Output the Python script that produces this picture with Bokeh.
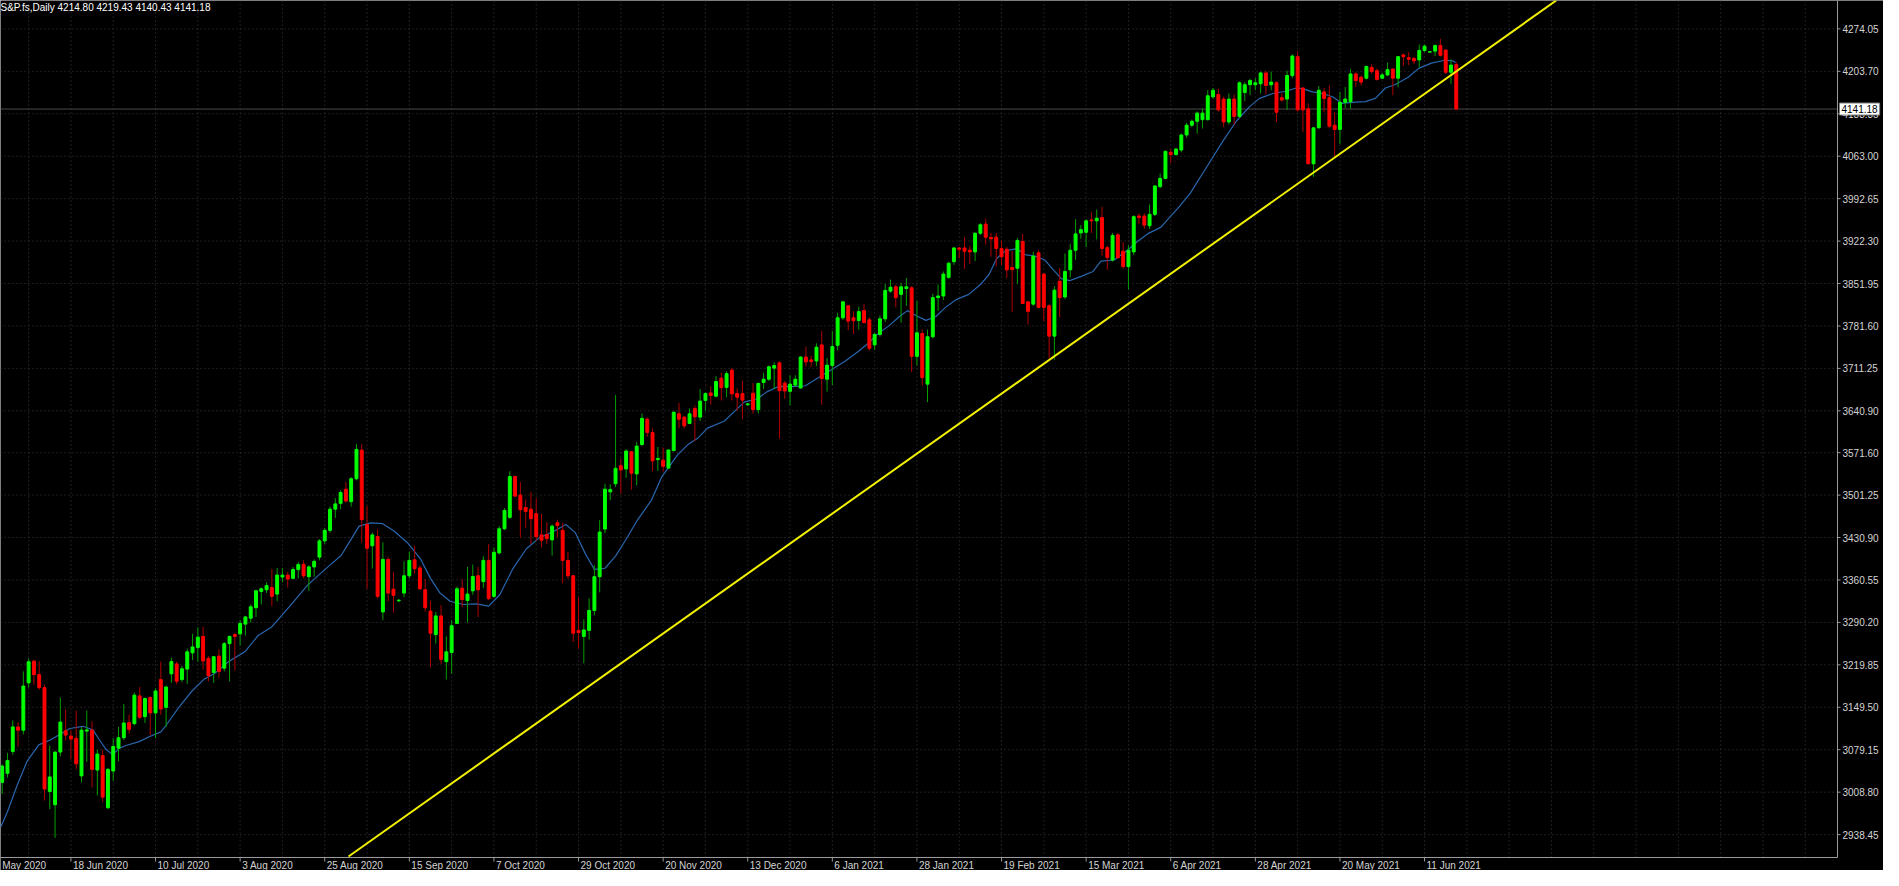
from bokeh.plotting import figure
from bokeh.models import ColumnDataSource, Range1d, Label
from bokeh.core.properties import value
from bokeh.embed import file_html
from bokeh.resources import INLINE

title_text = "S&P.fs,Daily  4214.80 4219.43 4140.43 4141.18"
last_price = 4141.18
last_price_text = "4141.18"

# ---- daily OHLC (bar 0 = 1 Jun 2020) ----
opens = [3025.0, 3040.0, 3076.4, 3117.0, 3111.5, 3190.0, 3226.0, 3203.6, 3182.0, 3010.0,
         2988.0, 3075.3, 3110.5, 3101.8, 3098.0, 3035.8, 3110.0, 3111.6, 3045.5, 3069.4,
         2983.0, 3043.9, 3081.8, 3099.0, 3124.0, 3122.4, 3168.4, 3134.0, 3165.7, 3140.2,
         3195.4, 3149.4, 3205.0, 3221.4, 3195.4, 3212.8, 3239.8, 3248.5, 3266.9, 3230.6,
         3207.3, 3234.4, 3214.4, 3255.0, 3270.0, 3271.2, 3287.4, 3297.2, 3314.5, 3341.6,
         3344.3, 3348.0, 3337.2, 3365.4, 3368.6, 3363.2, 3377.8, 3386.5, 3366.0, 3382.2,
         3398.4, 3425.4, 3442.8, 3477.9, 3487.6, 3511.0, 3490.4, 3528.3, 3575.9, 3452.5,
         3417.3, 3432.5, 3307.5, 3394.6, 3345.3, 3326.0, 3338.8, 3367.5, 3394.0, 3380.5,
         3344.3, 3309.0, 3270.0, 3300.9, 3225.2, 3240.3, 3288.5, 3346.9, 3326.4, 3342.6,
         3367.5, 3357.8, 3393.0, 3333.4, 3405.4, 3445.4, 3464.4, 3532.0, 3501.2, 3480.6,
         3477.9, 3470.4, 3435.2, 3435.7, 3427.0, 3455.2, 3442.8, 3393.0, 3367.5, 3276.6,
         3266.9, 3277.0, 3310.0, 3366.0, 3445.0, 3506.6, 3520.1, 3549.9, 3544.5, 3573.2,
         3536.4, 3585.1, 3627.0, 3605.0, 3560.0, 3559.0, 3546.0, 3575.0, 3636.0, 3630.5,
         3620.0, 3644.6, 3630.5, 3658.1, 3670.6, 3665.2, 3695.0, 3679.8, 3708.5, 3669.5,
         3669.5, 3651.0, 3670.1, 3643.0, 3687.9, 3693.3, 3711.7, 3720.4, 3686.8, 3673.3,
         3683.6, 3678.7, 3730.1, 3725.3, 3723.6, 3750.2, 3693.3, 3716.1, 3749.6, 3795.1,
         3815.1, 3795.1, 3790.7, 3807.0, 3791.8, 3750.2, 3767.5, 3793.4, 3839.4, 3846.5,
         3834.0, 3843.8, 3844.9, 3731.2, 3769.1, 3685.2, 3763.7, 3828.6, 3831.3, 3862.2,
         3888.2, 3910.9, 3910.9, 3907.1, 3904.4, 3935.2, 3950.4, 3928.2, 3928.7, 3909.8,
         3908.7, 3878.4, 3877.3, 3921.7, 3821.6, 3817.8, 3902.8, 3867.6, 3815.1, 3764.8,
         3855.7, 3829.7, 3874.6, 3907.1, 3935.8, 3936.9, 3957.4, 3955.8, 3961.2, 3911.4,
         3890.9, 3932.6, 3905.5, 3880.0, 3904.4, 3963.9, 3963.9, 3947.7, 3966.6, 4012.6,
         4026.2, 4069.5, 4065.7, 4073.3, 4098.2, 4114.4, 4120.9, 4123.6, 4123.6, 4161.5,
         4165.3, 4157.7, 4119.8, 4157.7, 4129.0, 4168.5, 4181.5, 4181.5, 4183.1, 4201.0,
         4181.5, 4184.7, 4159.9, 4157.7, 4196.6, 4228.0, 4176.1, 4141.5, 4050.5, 4110.0,
         4169.6, 4159.9, 4114.4, 4107.4, 4152.3, 4153.4, 4199.4, 4193.9, 4192.3, 4210.2,
         4204.8, 4192.3, 4197.7, 4207.5, 4192.3, 4230.8, 4226.4, 4224.8, 4222.6, 4238.3,
         4235.6, 4237.2, 4246.4, 4238.9, 4202.1, 4214.80]
highs = [3055.0, 3073.7, 3127.8, 3125.0, 3209.0, 3230.6, 3228.0, 3226.0, 3187.0, 3086.0,
         3076.0, 3165.7, 3145.6, 3111.6, 3144.0, 3117.0, 3144.0, 3126.0, 3079.0, 3079.0,
         3049.0, 3098.0, 3117.0, 3154.9, 3137.0, 3173.8, 3183.0, 3165.7, 3167.4, 3180.8,
         3225.2, 3185.7, 3231.7, 3225.2, 3218.0, 3246.8, 3271.2, 3282.0, 3283.0, 3234.4,
         3234.4, 3245.2, 3257.7, 3268.5, 3272.3, 3294.0, 3301.0, 3320.0, 3344.3, 3348.0,
         3356.7, 3378.4, 3380.5, 3380.5, 3374.0, 3382.2, 3390.2, 3393.0, 3384.8, 3394.6,
         3428.1, 3447.0, 3482.2, 3495.8, 3509.3, 3522.8, 3531.0, 3586.2, 3586.2, 3483.3,
         3439.0, 3444.4, 3422.7, 3398.4, 3374.0, 3329.0, 3391.3, 3407.6, 3417.3, 3384.8,
         3362.1, 3325.3, 3307.5, 3318.8, 3266.9, 3293.9, 3349.7, 3362.1, 3382.2, 3386.0,
         3382.2, 3400.0, 3420.0, 3414.6, 3449.8, 3479.6, 3540.7, 3533.6, 3522.8, 3494.0,
         3506.6, 3495.8, 3470.4, 3456.3, 3452.5, 3460.6, 3455.2, 3407.6, 3368.6, 3331.8,
         3295.5, 3330.0, 3385.0, 3460.0, 3520.0, 3519.0, 3667.3, 3561.8, 3577.0, 3574.3,
         3589.4, 3636.5, 3630.0, 3612.0, 3581.0, 3580.0, 3577.0, 3639.0, 3654.0, 3632.0,
         3644.6, 3650.0, 3677.0, 3671.7, 3681.4, 3698.7, 3704.2, 3706.8, 3712.3, 3678.2,
         3690.6, 3654.0, 3686.8, 3687.9, 3704.2, 3716.1, 3721.5, 3723.0, 3690.6, 3699.8,
         3699.8, 3731.2, 3747.4, 3732.0, 3752.8, 3773.4, 3728.5, 3773.4, 3803.2, 3823.2,
         3816.7, 3805.9, 3813.5, 3817.8, 3796.2, 3770.2, 3798.9, 3851.3, 3858.4, 3850.3,
         3853.0, 3861.0, 3847.6, 3823.2, 3775.6, 3775.6, 3835.1, 3850.3, 3871.9, 3888.2,
         3912.5, 3912.5, 3928.7, 3914.1, 3936.9, 3952.0, 3959.6, 3935.8, 3935.8, 3923.3,
         3912.5, 3905.5, 3927.1, 3934.2, 3823.2, 3904.4, 3907.1, 3869.2, 3817.8, 3847.6,
         3877.3, 3901.7, 3917.9, 3958.5, 3948.8, 3958.5, 3970.4, 3974.7, 3979.1, 3915.2,
         3935.8, 3935.8, 3920.6, 3915.2, 3965.0, 3968.3, 3968.3, 3982.9, 4015.3, 4034.3,
         4072.2, 4075.0, 4076.5, 4100.3, 4118.2, 4123.6, 4137.1, 4142.5, 4172.3, 4176.1,
         4175.0, 4161.5, 4167.0, 4165.3, 4186.9, 4185.8, 4191.3, 4192.3, 4203.2, 4204.8,
         4203.2, 4186.9, 4166.9, 4204.8, 4231.8, 4237.2, 4177.7, 4150.7, 4111.1, 4179.3,
         4176.1, 4180.4, 4136.0, 4169.6, 4177.7, 4207.5, 4202.1, 4196.6, 4212.9, 4215.6,
         4208.6, 4201.0, 4218.3, 4208.6, 4229.1, 4233.5, 4235.6, 4228.0, 4248.0, 4248.0,
         4237.0, 4248.0, 4257.3, 4240.0, 4223.7, 4219.43]
lows = [3006.0, 3033.0, 3071.0, 3084.5, 3104.5, 3182.0, 3187.0, 3179.0, 2995.0, 2980.6,
        2933.0, 3068.0, 3095.0, 3062.9, 3046.6, 3025.0, 3059.0, 3016.8, 3003.3, 2992.5,
        2980.6, 3027.6, 3060.0, 3095.3, 3106.0, 3119.7, 3130.5, 3123.5, 3103.4, 3098.0,
        3137.0, 3117.0, 3190.0, 3187.3, 3191.0, 3188.4, 3227.9, 3225.2, 3211.7, 3192.7,
        3190.0, 3198.0, 3209.0, 3192.7, 3210.6, 3252.0, 3268.5, 3290.0, 3299.3, 3320.0,
        3338.9, 3317.2, 3325.3, 3356.7, 3348.0, 3362.0, 3363.2, 3363.2, 3342.6, 3366.0,
        3393.0, 3420.0, 3439.0, 3463.3, 3477.9, 3488.7, 3482.2, 3525.6, 3422.7, 3345.9,
        3379.4, 3330.0, 3293.9, 3325.3, 3306.4, 3324.0, 3331.8, 3363.2, 3371.3, 3344.3,
        3308.0, 3216.0, 3255.0, 3221.4, 3195.4, 3205.2, 3288.0, 3315.6, 3290.1, 3336.1,
        3299.3, 3347.0, 3327.0, 3330.7, 3403.0, 3443.3, 3462.0, 3498.5, 3430.8, 3447.1,
        3420.0, 3425.4, 3414.6, 3420.0, 3401.1, 3430.8, 3355.0, 3362.1, 3257.7, 3246.8,
        3222.5, 3262.0, 3302.0, 3340.0, 3438.0, 3493.0, 3514.7, 3503.9, 3529.9, 3510.4,
        3517.4, 3582.4, 3598.0, 3541.0, 3541.0, 3540.0, 3545.0, 3574.0, 3612.0, 3612.0,
        3618.6, 3590.5, 3624.0, 3641.4, 3651.1, 3663.5, 3658.1, 3663.5, 3658.1, 3641.4,
        3627.3, 3649.0, 3636.5, 3636.5, 3677.1, 3690.6, 3677.1, 3594.8, 3660.9, 3650.0,
        3681.4, 3678.7, 3714.0, 3713.9, 3715.0, 3651.1, 3672.8, 3683.6, 3741.0, 3791.8,
        3774.5, 3768.0, 3775.6, 3786.4, 3741.0, 3742.0, 3763.7, 3788.0, 3836.7, 3812.4,
        3787.0, 3815.1, 3705.2, 3716.1, 3682.5, 3655.4, 3761.0, 3807.0, 3824.3, 3860.0,
        3882.8, 3893.5, 3876.2, 3883.8, 3889.2, 3932.6, 3916.3, 3896.3, 3880.0, 3882.7,
        3861.0, 3804.3, 3851.4, 3817.8, 3784.0, 3815.1, 3810.8, 3789.6, 3728.5, 3725.8,
        3796.0, 3825.9, 3862.2, 3890.9, 3926.0, 3912.5, 3935.8, 3925.0, 3897.9, 3874.6,
        3888.2, 3893.5, 3876.2, 3842.1, 3899.0, 3950.4, 3942.3, 3942.3, 3963.9, 4010.0,
        4024.6, 4051.6, 4064.0, 4069.5, 4093.8, 4111.1, 4100.3, 4109.0, 4122.0, 4157.7,
        4137.1, 4111.1, 4115.5, 4115.5, 4126.3, 4154.4, 4164.2, 4172.3, 4166.9, 4165.3,
        4172.3, 4119.8, 4153.4, 4139.8, 4192.3, 4137.1, 4103.6, 4049.4, 4028.9, 4109.0,
        4137.1, 4110.0, 4061.4, 4083.0, 4142.5, 4141.5, 4177.7, 4180.4, 4190.2, 4199.4,
        4188.5, 4191.3, 4195.6, 4164.2, 4177.7, 4212.9, 4214.0, 4215.6, 4210.2, 4235.6,
        4235.0, 4229.1, 4228.0, 4199.4, 4183.1, 4140.43]
closes = [3052.0, 3061.2, 3117.0, 3111.6, 3184.6, 3225.0, 3203.6, 3182.0, 3014.0, 3034.0,
          3075.3, 3125.0, 3103.4, 3097.0, 3055.8, 3111.6, 3112.0, 3046.6, 3072.0, 3000.6,
          3046.6, 3084.5, 3099.0, 3123.5, 3113.0, 3169.5, 3133.0, 3164.0, 3140.2, 3176.5,
          3146.7, 3183.0, 3225.4, 3192.7, 3213.3, 3241.4, 3249.5, 3265.8, 3226.3, 3201.9,
          3233.3, 3209.0, 3255.0, 3266.9, 3266.9, 3288.5, 3299.3, 3316.1, 3342.6, 3345.9,
          3351.3, 3333.4, 3368.6, 3368.6, 3362.1, 3377.8, 3386.0, 3367.5, 3382.2, 3391.3,
          3425.4, 3442.8, 3477.9, 3486.6, 3505.5, 3491.4, 3528.3, 3577.0, 3460.6, 3413.0,
          3435.2, 3333.4, 3394.6, 3338.8, 3335.0, 3327.0, 3367.5, 3393.0, 3379.4, 3345.9,
          3314.5, 3272.3, 3300.9, 3229.0, 3241.4, 3284.7, 3345.9, 3328.0, 3337.2, 3366.4,
          3344.3, 3393.0, 3329.6, 3406.5, 3445.4, 3475.8, 3532.0, 3499.6, 3476.9, 3474.2,
          3462.2, 3432.5, 3426.5, 3429.2, 3449.8, 3450.9, 3393.0, 3367.5, 3272.3, 3273.4,
          3277.7, 3310.0, 3366.0, 3440.0, 3511.0, 3510.4, 3545.6, 3542.9, 3574.3, 3537.5,
          3582.4, 3628.4, 3605.0, 3558.0, 3562.0, 3549.0, 3576.0, 3638.7, 3627.0, 3616.0,
          3636.0, 3631.0, 3657.0, 3669.5, 3666.3, 3689.5, 3679.3, 3702.5, 3669.0, 3663.5,
          3658.7, 3652.5, 3643.0, 3686.3, 3693.3, 3713.9, 3716.1, 3674.4, 3673.8, 3685.2,
          3693.3, 3730.1, 3722.0, 3722.5, 3746.4, 3694.4, 3716.6, 3747.4, 3795.1, 3821.6,
          3789.6, 3790.2, 3805.3, 3787.0, 3744.7, 3767.5, 3793.4, 3840.5, 3845.9, 3828.6,
          3846.5, 3846.5, 3731.2, 3770.2, 3696.0, 3763.7, 3828.6, 3831.3, 3867.6, 3885.5,
          3910.9, 3908.7, 3905.5, 3904.4, 3935.2, 3949.3, 3928.7, 3926.0, 3909.8, 3896.3,
          3874.6, 3875.1, 3923.3, 3818.9, 3805.9, 3897.4, 3812.4, 3812.4, 3764.8, 3841.0,
          3828.6, 3871.9, 3907.1, 3934.2, 3941.2, 3955.8, 3955.8, 3960.1, 3909.8, 3895.2,
          3931.5, 3894.6, 3880.0, 3907.1, 3962.8, 3961.2, 3948.8, 3966.6, 4013.7, 4026.2,
          4071.1, 4065.7, 4074.9, 4098.2, 4114.4, 4120.9, 4134.4, 4134.4, 4163.1, 4172.3,
          4139.8, 4119.8, 4157.7, 4129.0, 4184.7, 4181.5, 4188.5, 4184.7, 4201.0, 4180.4,
          4185.8, 4136.0, 4156.1, 4196.6, 4229.1, 4139.8, 4139.8, 4050.5, 4110.0, 4172.3,
          4158.8, 4112.8, 4107.4, 4152.3, 4157.7, 4199.4, 4188.5, 4185.8, 4211.8, 4203.2,
          4190.2, 4197.7, 4206.4, 4192.3, 4228.0, 4228.0, 4223.7, 4221.0, 4238.3, 4245.4,
          4236.2, 4246.4, 4230.2, 4202.1, 4214.0, 4141.18]

# ---- moving average (bar position, price) ----
ma_x = [-0.3, 1, 2.8, 4.7, 6.9, 9.1, 11.2, 12.8, 15.3, 17.2, 18.4, 19.7, 20.9, 22.2, 23.4,
        25.9, 27.8, 30, 31, 33.4, 35.9, 38.1, 40.3, 42.8, 45.9, 48.4, 50.9, 52.8, 54.4,
        57.8, 61.6, 64.1, 65.8, 67.5, 69.7, 71.9, 74.1, 76.6, 79.1, 81, 82.8, 84.7, 87.2,
        89.7, 92, 94.1, 96.6, 99.1, 101.6, 104.1, 106.6, 108.4, 110.3, 112, 114, 116, 118,
        120, 122.8, 124.7, 127.8, 129.7, 131.6, 133.4, 136.6, 138.4, 140.3, 142.8, 144.7,
        146.9, 149.4, 151.9, 154.4, 156.9, 159.4, 161.9, 163.8, 165.3, 167.8, 169.7, 171.2,
        172.8, 174.7, 176.6, 178.4, 180.3, 182.8, 185, 186.6, 188.1, 189.7, 191.9, 193.4,
        195.3, 197.2, 198.8, 200.3, 201.9, 204.1, 206.3, 207.8, 210.3, 212.8, 214.7, 216.6,
        219.1, 222.7, 224.7, 227.8, 230.9, 233.4, 235.9, 237.8, 240.3, 242.8, 244.7, 245.9,
        247.8, 249.7, 251.6, 253.4, 255.3, 257.8, 259.7, 261.6, 263.4, 265.9, 267.9, 270.3,
        272.8, 274.3, 274.9]
ma_y = [2950.8, 2976.3, 3019.5, 3060.0, 3087.2, 3095.3, 3106.2, 3114.3, 3118.0, 3111.6,
        3095.3, 3079.0, 3071.0, 3081.8, 3086.1, 3092.6, 3100.7, 3108.8, 3119.7, 3149.4,
        3176.5, 3195.4, 3206.3, 3225.2, 3241.4, 3268.5, 3282.0, 3301.0, 3317.2, 3352.4,
        3382.2, 3401.1, 3425.4, 3449.8, 3455.2, 3454.1, 3441.7, 3422.7, 3395.7, 3363.2,
        3338.8, 3325.3, 3319.9, 3321.0, 3317.2, 3336.1, 3379.4, 3411.9, 3430.8, 3440.0,
        3452.5, 3439.0, 3403.8, 3378.0, 3380.0, 3400.0, 3428.0, 3458.0, 3493.0, 3531.0,
        3568.8, 3585.0, 3596.0, 3612.2, 3624.0, 3639.2, 3655.4, 3660.9, 3672.8, 3681.4,
        3680.9, 3682.5, 3696.0, 3709.6, 3723.1, 3739.3, 3752.8, 3766.4, 3782.6, 3797.2,
        3807.0, 3798.9, 3790.8, 3797.2, 3812.4, 3824.8, 3834.0, 3850.3, 3866.5, 3893.5,
        3906.0, 3909.8, 3900.0, 3897.4, 3890.9, 3874.6, 3860.0, 3856.8, 3863.8, 3871.9,
        3889.2, 3890.9, 3907.1, 3921.7, 3934.2, 3945.0, 3980.2, 4001.8, 4045.1, 4088.4,
        4120.9, 4145.2, 4158.8, 4166.9, 4170.7, 4176.1, 4175.0, 4169.6, 4166.9, 4161.5,
        4150.7, 4152.3, 4153.4, 4158.8, 4176.1, 4181.5, 4193.9, 4208.6, 4217.2, 4222.1,
        4221.0, 4218.3]

# ---- trend line anchors (bar position, price) ----
trend_x = [65.5, 293.9]
trend_y = [2902.1, 4321.1]

# ---- axis ticks ----
price_ticks = [2938.45, 3008.80, 3079.15, 3149.50, 3219.85, 3290.20, 3360.55, 3430.90,
               3501.25, 3571.60, 3640.90, 3711.25, 3781.60, 3851.95, 3922.30, 3992.65,
               4063.00, 4133.35, 4203.70, 4274.05]
date_ticks = [-3, 13, 29, 45, 61, 77, 93, 109, 125, 141, 157, 173, 189, 205, 221, 237, 253, 269]
date_labels = ["27 May 2020", "18 Jun 2020", "10 Jul 2020", "3 Aug 2020", "25 Aug 2020",
               "15 Sep 2020", "7 Oct 2020", "29 Oct 2020", "20 Nov 2020", "13 Dec 2020",
               "6 Jan 2021", "28 Jan 2021", "19 Feb 2021", "15 Mar 2021", "6 Apr 2021",
               "28 Apr 2021", "20 May 2021", "11 Jun 2021"]
grid_bars = list(range(5, 347, 8))

# ---- geometry ----
W, H = 1883, 870
AXIS_W, AXIS_H = 46, 13            # pixels kept for the price / date scales
X0, AX = -0.32, 347.1              # plot area in bar units (left edge, price-scale line)
Y1, AY = 4321.1, 2900.5            # plot area in price units (top edge, date-scale line)
px_x = (AX - X0) / (W - AXIS_W)    # bars per pixel
px_y = (Y1 - AY) / (H - AXIS_H)    # price per pixel
XE = X0 + W * px_x
YE = Y1 - H * px_y

FONT = "Liberation Sans"
AXIS_COL = "#9a9a9a"
GRID_COL = "#3c3c3c"
TXT_COL = "#d4d4d4"

p = figure(width=W, height=H, output_backend="svg", toolbar_location=None,
           x_range=Range1d(X0, XE), y_range=Range1d(YE, Y1),
           x_axis_location=None, y_axis_location=None, min_border=0,
           background_fill_color="#000000", border_fill_color="#000000",
           outline_line_color=None)
p.grid.visible = False

# grid (dotted)
p.segment(x0=X0, x1=AX, y0=price_ticks, y1=price_ticks, line_color=GRID_COL,
          line_dash="1 3", line_width=1)
p.segment(x0=grid_bars, x1=grid_bars, y0=AY, y1=Y1, line_color=GRID_COL,
          line_dash="1 3", line_width=1)

# last price line
p.segment(x0=[X0], x1=[AX], y0=[last_price], y1=[last_price], line_color="#4a4a4a",
          line_width=1)

# moving average
p.line(ma_x, ma_y, line_color="#2866ad", line_width=1.2)

# candles
n = len(closes)
up = [c >= o for o, c in zip(opens, closes)]
src = ColumnDataSource(dict(
    x=list(range(n)), o=opens, h=highs, l=lows, c=closes,
    top=[max(o, c) for o, c in zip(opens, closes)],
    bot=[min(o, c) for o, c in zip(opens, closes)],
    body=["#00ff00" if u else "#ff0000" for u in up],
    wick=["#00a000" if u else "#b00000" for u in up],
))
p.segment(x0="x", y0="l", x1="x", y1="h", line_color="wick", line_width=1, source=src)
p.vbar(x="x", width=0.55, top="top", bottom="bot", fill_color="body",
       line_color="body", line_width=1, source=src)

# trend line
p.line(trend_x, trend_y, line_color="#f2f200", line_width=2)

# scale lines (price scale on the right, date scale at the bottom)
p.segment(x0=[AX, X0], x1=[AX, AX], y0=[AY, AY], y1=[Y1, AY], line_color=AXIS_COL,
          line_width=1)
# price scale ticks and labels
p.segment(x0=AX, x1=AX + 3 * px_x, y0=price_ticks, y1=price_ticks, line_color=AXIS_COL,
          line_width=1)
p.text(x=AX, y=price_ticks, text=["%.2f" % v for v in price_ticks], x_offset=5,
       text_align="left", text_baseline="middle", text_font=value(FONT),
       text_font_size="10px", text_color=TXT_COL)
# date scale ticks and labels
p.segment(x0=date_ticks, x1=date_ticks, y0=AY, y1=AY - 4 * px_y, line_color=AXIS_COL,
          line_width=1)
p.text(x=date_ticks, y=AY, text=date_labels, x_offset=2, y_offset=2,
       text_align="left", text_baseline="top", text_font=value(FONT),
       text_font_size="10px", text_color=TXT_COL)

# title
p.text(x=[X0], y=[Y1], text=[title_text], x_offset=0, y_offset=1, text_align="left",
       text_baseline="top", text_font=value(FONT), text_font_size="10px",
       text_color="#ffffff")

# last price box on the scale
p.add_layout(Label(x=AX, y=last_price, text=last_price_text, text_align="left",
                   text_baseline="middle", x_offset=2, text_font=FONT,
                   text_font_size="10px", text_color="#000000",
                   background_fill_color="#ffffff", border_line_color="#808080",
                   padding=2, level="overlay"))

open("out.html", "w").write(file_html(p, INLINE))
